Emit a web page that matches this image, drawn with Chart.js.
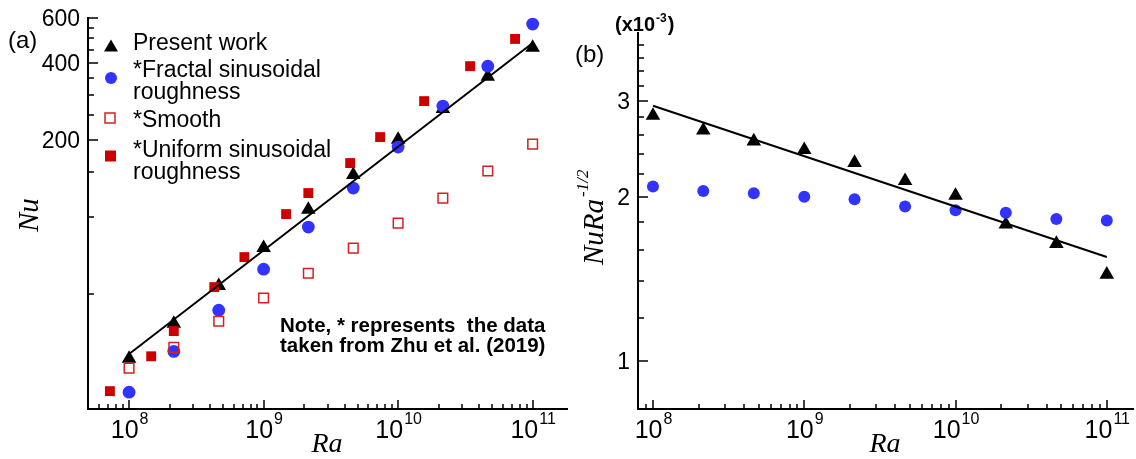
<!DOCTYPE html>
<html>
<head>
<meta charset="utf-8">
<title>Nu vs Ra</title>
<script src="https://cdn.jsdelivr.net/npm/chart.js@4.4.1/dist/chart.umd.min.js"></script>
<style>
  body { margin: 0; background: #fff; }
  .panel { position: absolute; top: 0; }
  #panelA { left: 0; }
  #panelB { left: 568px; }
</style>
</head>
<body>
<canvas id="panelA" class="panel" width="568" height="459"></canvas>
<canvas id="panelB" class="panel" width="568" height="459"></canvas>
<script>
// ========== Data ==========
const raSim = [1e8, 2.15e8, 4.64e8, 1e9, 2.15e9, 4.64e9, 1e10, 2.15e10, 4.64e10, 1e11];
const nuPresent = [28.0, 38.4, 53.9, 75.9, 107, 146.4, 201, 265, 354, 460];
const nuFractal = [20.7, 29.9, 43.3, 62.6, 91.5, 129.9, 187.9, 271.7, 389, 568];
const nuSmooth = [25.7, 31.0, 39.2, 48.3, 60.4, 75.7, 94.8, 118.7, 151.4, 193];
const raUniform = [7.2e7, 1.46e8, 2.15e8, 4.3e8, 7.2e8, 1.47e9, 2.15e9, 4.4e9, 7.35e9, 1.56e10, 3.43e10, 7.4e10];
const nuUniform = [20.9, 28.6, 35.9, 53.3, 69.8, 102.8, 124.2, 162.7, 205.5, 284, 389, 497];
const raFit = [1e8, 1e11];
const nuFit = [29.2, 479];

// panel (b): Nu Ra^-1/2 in units of 1e-3
const scaledPresent = [2.82, 2.65, 2.53, 2.44, 2.31, 2.14, 2.01, 1.78, 1.64, 1.44];
const scaledFractal = [2.09, 2.05, 2.03, 2.00, 1.98, 1.92, 1.89, 1.87, 1.82, 1.81];
const scaledFit = [2.94, 1.55];

// tick labels
const raDecades = [8, 9, 10, 11];
const nuMajor = [200, 400, 600];
const nuMinor = [50, 100, 150, 250, 300, 350, 450, 500, 550];
const scaledMajor = [1, 2, 3];
const scaledMinor = [1.2, 1.4, 1.6, 1.8, 2.2, 2.4, 2.6, 2.8, 3.2, 3.4, 3.6, 3.8];

const legendNames = [['Present work'], ['*Fractal sinusoidal', 'roughness'], ['*Smooth'], ['*Uniform sinusoidal', 'roughness']];
const noteLines = ['Note, * represents  the data', 'taken from Zhu et al. (2019)'];

// ========== Styles ==========
const SANS = '"Liberation Sans", Arial, Helvetica, sans-serif';
const SERIF = '"Liberation Serif", "Times New Roman", serif';
const BLUE = '#3333ff';
const RED = '#cc0000';
const OPEN_RED = '#d42020';

function pts(xs, ys) {
  return xs.map((x, i) => ({ x: x, y: ys[i] }));
}

function minorDecadeTicks(exps) {
  const out = [];
  [exps[0] - 1].concat(exps).forEach(e => {
    for (let k = 2; k <= 9; k++) out.push(k * Math.pow(10, e));
  });
  return out;
}

function drawPower(ctx, base, exp, cx, baseY, baseFont, expFont, rise) {
  ctx.font = baseFont;
  const wb = ctx.measureText(base).width;
  ctx.font = expFont;
  const we = ctx.measureText(exp).width;
  const x0 = cx - (wb + we) / 2;
  ctx.font = baseFont;
  ctx.fillText(base, x0, baseY);
  ctx.font = expFont;
  ctx.fillText(exp, x0 + wb + 1, baseY - rise);
}

// inward ticks and labels, positioned through the chart's own scales
function drawAxisDecor(chart, spec) {
  const ctx = chart.ctx;
  const xs = chart.scales.x;
  const ys = chart.scales.y;
  const a = chart.chartArea;
  ctx.save();
  ctx.strokeStyle = '#000';
  ctx.lineWidth = 1.5;
  ctx.beginPath();
  minorDecadeTicks(raDecades).forEach(v => {
    if (v <= xs.min * 1.02 || v >= xs.max) return;
    const p = Math.round(xs.getPixelForValue(v));
    ctx.moveTo(p, a.bottom);
    ctx.lineTo(p, a.bottom - 5);
  });
  raDecades.forEach(e => {
    const p = Math.round(xs.getPixelForValue(Math.pow(10, e)));
    ctx.moveTo(p, a.bottom);
    ctx.lineTo(p, a.bottom - 9);
  });
  spec.yMinor.forEach(v => {
    const p = Math.round(ys.getPixelForValue(v));
    ctx.moveTo(a.left, p);
    ctx.lineTo(a.left + 6, p);
  });
  spec.yMajor.forEach(v => {
    const p = Math.round(ys.getPixelForValue(v));
    ctx.moveTo(a.left, p);
    ctx.lineTo(a.left + 10, p);
  });
  ctx.stroke();

  ctx.fillStyle = '#000';
  ctx.textBaseline = 'alphabetic';
  raDecades.forEach(e => {
    const p = xs.getPixelForValue(Math.pow(10, e));
    drawPower(ctx, '10', String(e), p, 438, '25px ' + SANS, '16px ' + SANS, 14);
  });
  ctx.font = '23px ' + SANS;
  ctx.textAlign = 'right';
  spec.yMajor.forEach(v => {
    const p = ys.getPixelForValue(v);
    ctx.fillText(String(v), a.left - 8, p + 8);
  });
  ctx.textAlign = 'left';

  // x title
  ctx.font = 'italic 28px ' + SERIF;
  ctx.textAlign = 'center';
  ctx.fillText('Ra', spec.titleX, 452);
  ctx.textAlign = 'left';
  ctx.restore();
}

function baseOptions(xRange, yRange, pad, yWidth) {
  return {
    responsive: false,
    animation: false,
    layout: { padding: pad, autoPadding: false },
    plugins: {
      legend: { display: false },
      tooltip: { enabled: false }
    },
    scales: {
      x: {
        type: 'logarithmic',
        min: xRange[0],
        max: xRange[1],
        grid: { display: false },
        ticks: { display: false },
        border: { display: true, color: '#000', width: 2 },
        afterFit: function(s) { s.height = 50; }
      },
      y: {
        type: 'logarithmic',
        min: yRange[0],
        max: yRange[1],
        grid: { display: false },
        ticks: { display: false },
        border: { display: true, color: '#000', width: 2 },
        afterFit: function(s) { s.width = yWidth; }
      }
    }
  };
}

// ========== Panel (a) ==========
const decorA = {
  id: 'decorA',
  afterDraw(chart) {
    drawAxisDecor(chart, { yMajor: nuMajor, yMinor: nuMinor, titleX: 327 });
    const ctx = chart.ctx;
    ctx.save();
    ctx.fillStyle = '#000';
    ctx.font = '24px ' + SANS;
    ctx.fillText('(a)', 8, 48);

    // y title
    ctx.save();
    ctx.translate(38, 232);
    ctx.rotate(-Math.PI / 2);
    ctx.font = 'italic 29px ' + SERIF;
    ctx.fillText('Nu', 0, 0);
    ctx.restore();

    // legend
    const rows = [50, 77, 127, 157];
    const markerY = [47, 78, 118, 156];
    ctx.font = '23px ' + SANS;
    legendNames.forEach((lines, i) => {
      lines.forEach((t, j) => ctx.fillText(t, 133, rows[i] + j * 22));
    });
    ctx.beginPath();
    ctx.moveTo(111, markerY[0] - 7.5);
    ctx.lineTo(118, markerY[0] + 4.5);
    ctx.lineTo(104, markerY[0] + 4.5);
    ctx.closePath();
    ctx.fill();
    ctx.fillStyle = BLUE;
    ctx.beginPath();
    ctx.arc(111, markerY[1], 6, 0, Math.PI * 2);
    ctx.fill();
    ctx.strokeStyle = OPEN_RED;
    ctx.lineWidth = 1.5;
    ctx.strokeRect(105, markerY[2] - 5, 10, 10);
    ctx.fillStyle = RED;
    ctx.fillRect(105, markerY[3] - 5.5, 11, 11);

    // note
    ctx.fillStyle = '#000';
    ctx.font = 'bold 20.5px ' + SANS;
    noteLines.forEach((t, i) => ctx.fillText(t, 280, 332 + i * 20));
    ctx.restore();
  }
};

new Chart(document.getElementById('panelA'), {
  type: 'scatter',
  data: {
    datasets: [
      { label: 'fit', data: pts(raFit, nuFit), showLine: true, borderColor: '#000', borderWidth: 2, pointRadius: 0, clip: false, order: 0 },
      { label: legendNames[3].join(' '), data: pts(raUniform, nuUniform), pointStyle: 'rect', pointRadius: 7, backgroundColor: RED, borderWidth: 0, clip: false, order: 1 },
      { label: legendNames[2].join(' '), data: pts(raSim, nuSmooth), pointStyle: 'rect', pointRadius: 6.8, backgroundColor: 'rgba(0,0,0,0)', borderColor: OPEN_RED, borderWidth: 1.5, clip: false, order: 2 },
      { label: legendNames[1].join(' '), data: pts(raSim, nuFractal), pointStyle: 'circle', pointRadius: 6.4, backgroundColor: BLUE, borderWidth: 0, clip: false, order: 3 },
      { label: legendNames[0].join(' '), data: pts(raSim, nuPresent), pointStyle: 'triangle', pointRadius: 8.4, backgroundColor: '#000', borderWidth: 0, clip: false, order: 4 }
    ]
  },
  options: baseOptions([4.95e7, 1.8e11], [17.8, 600], { left: 0, top: 18, right: 1, bottom: 0 }, 88),
  plugins: [decorA]
});

// ========== Panel (b) ==========
const decorB = {
  id: 'decorB',
  afterDraw(chart) {
    drawAxisDecor(chart, { yMajor: scaledMajor, yMinor: scaledMinor, titleX: 317 });
    const ctx = chart.ctx;
    ctx.save();
    ctx.fillStyle = '#000';
    ctx.font = '24px ' + SANS;
    ctx.fillText('(b)', 7, 62);

    // multiplier
    ctx.font = 'bold 20px ' + SANS;
    let x = 47;
    ctx.fillText('(x10', x, 31);
    x += ctx.measureText('(x10').width + 1;
    ctx.font = 'bold 12px ' + SANS;
    ctx.fillText('-3', x, 22);
    x += ctx.measureText('-3').width + 1;
    ctx.font = 'bold 20px ' + SANS;
    ctx.fillText(')', x, 31);

    // y title
    ctx.save();
    ctx.translate(35, 265);
    ctx.rotate(-Math.PI / 2);
    ctx.font = 'italic 29px ' + SERIF;
    ctx.fillText('NuRa', 0, 0);
    const w = ctx.measureText('NuRa').width;
    ctx.font = 'italic 17px ' + SERIF;
    ctx.fillText('-1/2', w + 2, -15);
    ctx.restore();
    ctx.restore();
  }
};

new Chart(document.getElementById('panelB'), {
  type: 'scatter',
  data: {
    datasets: [
      { label: 'fit', data: pts(raFit, scaledFit), showLine: true, borderColor: '#000', borderWidth: 2, pointRadius: 0, clip: false, order: 0 },
      { label: legendNames[1].join(' '), data: pts(raSim, scaledFractal), pointStyle: 'circle', pointRadius: 6, backgroundColor: BLUE, borderWidth: 0, clip: false, order: 1 },
      { label: legendNames[0].join(' '), data: pts(raSim, scaledPresent), pointStyle: 'triangle', pointRadius: 8.4, backgroundColor: '#000', borderWidth: 0, clip: false, order: 2 }
    ]
  },
  options: baseOptions([7.96e7, 1.49e11], [0.815, 4.0], { left: 0, top: 33, right: 3, bottom: 0 }, 70),
  plugins: [decorB]
});
</script>
</body>
</html>
